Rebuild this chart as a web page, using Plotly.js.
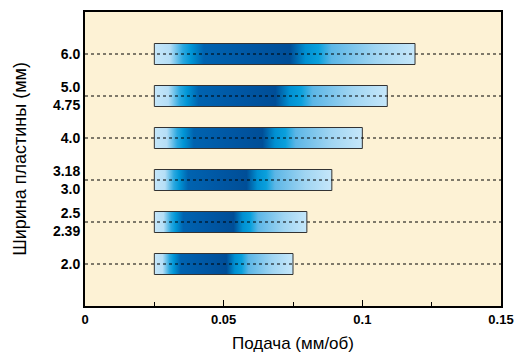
<!DOCTYPE html>
<html>
<head>
<meta charset="utf-8">
<script src="https://cdn.plot.ly/plotly-3.0.1.min.js"></script>
<style>html,body{margin:0;padding:0;background:#fff;}#chart{width:517px;height:356px;}</style>
</head>
<body>
<div id="chart"></div>
<script>
// Data
const widthLabels = ["2.0", "2.5<br>2.39", "3.18<br>3.0", "4.0", "5.0<br>4.75", "6.0"];
const feedMin = [0.025, 0.025, 0.025, 0.025, 0.025, 0.025];
const feedMax = [0.075, 0.080, 0.089, 0.100, 0.109, 0.119];

const rows = widthLabels.map((_, i) => i);
const halfH = 0.25;
const gradient = [
  [0.00, '#c6e7fa'], [0.06, '#b5def6'], [0.11, '#2aa8e0'], [0.14, '#0096d6'],
  [0.19, '#0063b0'], [0.35, '#0058a5'], [0.52, '#004e97'], [0.58, '#0090d2'],
  [0.63, '#0aa0dc'], [0.68, '#5cb6e6'], [0.85, '#a0d5f2'], [1.00, '#c6e7fa']
];

const traces = rows.map(i => ({
  type: 'scatter', mode: 'lines',
  x: [feedMin[i], feedMax[i], feedMax[i], feedMin[i], feedMin[i]],
  y: [i - halfH, i - halfH, i + halfH, i + halfH, i - halfH],
  fill: 'toself',
  fillgradient: { type: 'horizontal', colorscale: gradient },
  line: { color: '#333333', width: 1 },
  hoverinfo: 'skip', showlegend: false
}));

const shapes = rows.map(i => ({
  type: 'line', xref: 'paper', yref: 'y', x0: 0, x1: 1, y0: i, y1: i,
  line: { color: '#000', width: 1, dash: '3px,3px' }, layer: 'above'
}));

const layout = {
  width: 517, height: 356,
  margin: { l: 85, r: 16, t: 12, b: 50 },
  paper_bgcolor: '#ffffff', plot_bgcolor: '#fdf2d5',
  font: { family: 'Liberation Sans, Arial, sans-serif', color: '#000' },
  showlegend: false,
  shapes: shapes,
  xaxis: {
    range: [0, 0.15], tickvals: [0, 0.05, 0.1, 0.15], ticktext: ['0', '0.05', '0.1', '0.15'],
    ticks: 'inside', ticklen: 6, tickwidth: 1, tickcolor: '#000',
    minor: { tickvals: [0.025, 0.075, 0.125], ticks: 'inside', ticklen: 4, tickcolor: '#000' },
    showgrid: false, zeroline: false,
    showline: true, linewidth: 2, linecolor: '#000', mirror: true,
    tickfont: { size: 13, family: 'Liberation Sans, Arial, sans-serif', weight: 'bold' },
    title: { text: 'Подача (мм/об)', font: { size: 17 }, standoff: 12 }
  },
  yaxis: {
    range: [-1, 6], tickvals: rows, ticktext: widthLabels,
    ticks: '', showgrid: false, zeroline: false,
    showline: true, linewidth: 2, linecolor: '#000', mirror: true,
    tickfont: { size: 14, family: 'Liberation Sans, Arial, sans-serif', weight: 'bold' },
    title: { text: 'Ширина пластины (мм)', font: { size: 18 }, standoff: 22 }
  }
};

Plotly.newPlot('chart', traces, layout, { staticPlot: true });
</script>
</body>
</html>
